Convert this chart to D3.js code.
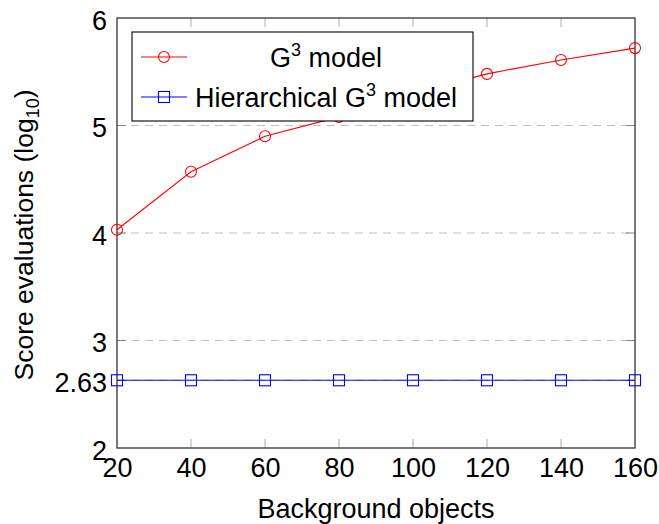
<!DOCTYPE html>
<html><head><meta charset="utf-8">
<script src="https://cdn.jsdelivr.net/npm/d3@7"></script>
<style>body{margin:0;background:#fff}svg text{font-family:"Liberation Sans",sans-serif;fill:#000}</style>
</head><body><svg id="c" width="659" height="524"></svg>
<script>
const objects = [20, 40, 60, 80, 100, 120, 140, 160];
const g3Model = [4.03, 4.57, 4.90, 5.08, 5.30, 5.48, 5.61, 5.72];
const hierModel = [2.63, 2.63, 2.63, 2.63, 2.63, 2.63, 2.63, 2.63];
const xTicks = [20, 40, 60, 80, 100, 120, 140, 160];
const yTicks = [2, 2.63, 3, 4, 5, 6];
const seriesNames = ["G3 model", "Hierarchical G3 model"];

const svg = d3.select("#c");
const m = {l:117, r:635, t:18, b:448};
const x = d3.scaleLinear().domain([20,160]).range([m.l, m.r]);
const y = d3.scaleLinear().domain([2,6]).range([m.b, m.t]);
const fs = 27;

// grid
svg.append("g").selectAll("line").data(yTicks.filter(d=>d>2&&d<6)).join("line")
  .attr("x1", m.l).attr("x2", m.r).attr("y1", d=>y(d)).attr("y2", d=>y(d))
  .attr("stroke", "#c0c0c0").attr("stroke-width", 1).attr("stroke-dasharray", "8,6");

// axes
const gx = svg.append("g").attr("transform", `translate(0,${m.b})`)
  .call(d3.axisBottom(x).tickValues(xTicks).tickSize(0).tickPadding(10).tickFormat(d3.format("d")));
const gy = svg.append("g").attr("transform", `translate(${m.l},0)`)
  .call(d3.axisLeft(y).tickValues(yTicks).tickSize(0).tickPadding(10).tickFormat(d=>d===2.63?"2.63":d3.format("d")(d)));
[gx,gy].forEach(g=>{g.select(".domain").remove(); g.selectAll("text").attr("font-size", fs).attr("font-family","Liberation Sans");});
gy.selectAll("text").attr("dy", "0.42em");
gx.selectAll("text").attr("dy", "0.71em");

// inner tick marks
const tl = 9;
svg.append("g").selectAll("line").data(xTicks.slice(1,-1)).join("line")
  .attr("x1", d=>x(d)).attr("x2", d=>x(d)).attr("y1", m.b).attr("y2", m.b-tl).attr("stroke","#aaa");
svg.append("g").selectAll("line").data(xTicks.slice(1,-1)).join("line")
  .attr("x1", d=>x(d)).attr("x2", d=>x(d)).attr("y1", m.t).attr("y2", m.t+tl).attr("stroke","#aaa");
svg.append("g").selectAll("line").data(yTicks.filter(d=>d>2&&d<6)).join("line")
  .attr("x1", m.l).attr("x2", m.l+tl).attr("y1", d=>y(d)).attr("y2", d=>y(d)).attr("stroke","#888");
svg.append("g").selectAll("line").data(yTicks.filter(d=>d>2&&d<6)).join("line")
  .attr("x1", m.r).attr("x2", m.r-tl).attr("y1", d=>y(d)).attr("y2", d=>y(d)).attr("stroke","#888");

// frame
svg.append("rect").attr("x", m.l).attr("y", m.t).attr("width", m.r-m.l).attr("height", m.b-m.t)
  .attr("fill","none").attr("stroke","#333").attr("stroke-width",1.3);

const line = d3.line().x((d,i)=>x(objects[i])).y(d=>y(d));
function drawSeries(vals, color, shape){
  svg.append("path").datum(vals).attr("d", line).attr("fill","none").attr("stroke",color).attr("stroke-width",1.1);
  const g = svg.append("g");
  vals.forEach((v,i)=>{
    if(shape==="circle") g.append("circle").attr("cx",x(objects[i])).attr("cy",y(v)).attr("r",5.5).attr("fill","none").attr("stroke",color).attr("stroke-width",1.1);
    else g.append("rect").attr("x",x(objects[i])-5.5).attr("y",y(v)-5.5).attr("width",11).attr("height",11).attr("fill","none").attr("stroke",color).attr("stroke-width",1.1);
  });
}
drawSeries(hierModel, "#0000ff", "square");
drawSeries(g3Model, "#ff0000", "circle");

// legend
const lg = svg.append("g");
lg.append("rect").attr("x",132).attr("y",32).attr("width",341).attr("height",89).attr("fill","#fff").attr("stroke","#000").attr("stroke-width",1.1);
const rows = [{c:"#ff0000", s:"circle", yy:57},{c:"#0000ff", s:"square", yy:97}];
rows.forEach((r,i)=>{
  lg.append("line").attr("x1",141).attr("x2",187).attr("y1",r.yy).attr("y2",r.yy).attr("stroke",r.c).attr("stroke-width",1.1);
  if(r.s==="circle") lg.append("circle").attr("cx",164).attr("cy",r.yy).attr("r",5.5).attr("fill","none").attr("stroke",r.c).attr("stroke-width",1.1);
  else lg.append("rect").attr("x",158.5).attr("y",r.yy-5.5).attr("width",11).attr("height",11).attr("fill","none").attr("stroke",r.c).attr("stroke-width",1.1);
  const t = lg.append("text").attr("x",326).attr("y",r.yy+10).attr("text-anchor","middle").attr("font-size",fs);
  const name = seriesNames[i].replace("G3 model","");
  t.append("tspan").text(name + "G");
  t.append("tspan").attr("dy",-11).attr("font-size",18).text("3");
  t.append("tspan").attr("dy",11).text(" model");
});

// axis labels
svg.append("text").attr("x", (m.l+m.r)/2).attr("y", 518).attr("text-anchor","middle").attr("font-size",fs).text("Background objects");
const yl = svg.append("text").attr("transform","translate(33,235) rotate(-90)").attr("text-anchor","middle").attr("font-size",26.5);
yl.append("tspan").text("Score evaluations (log");
yl.append("tspan").attr("dy",6).attr("font-size",18).text("10");
yl.append("tspan").attr("dy",-6).text(")");
</script></body></html>
